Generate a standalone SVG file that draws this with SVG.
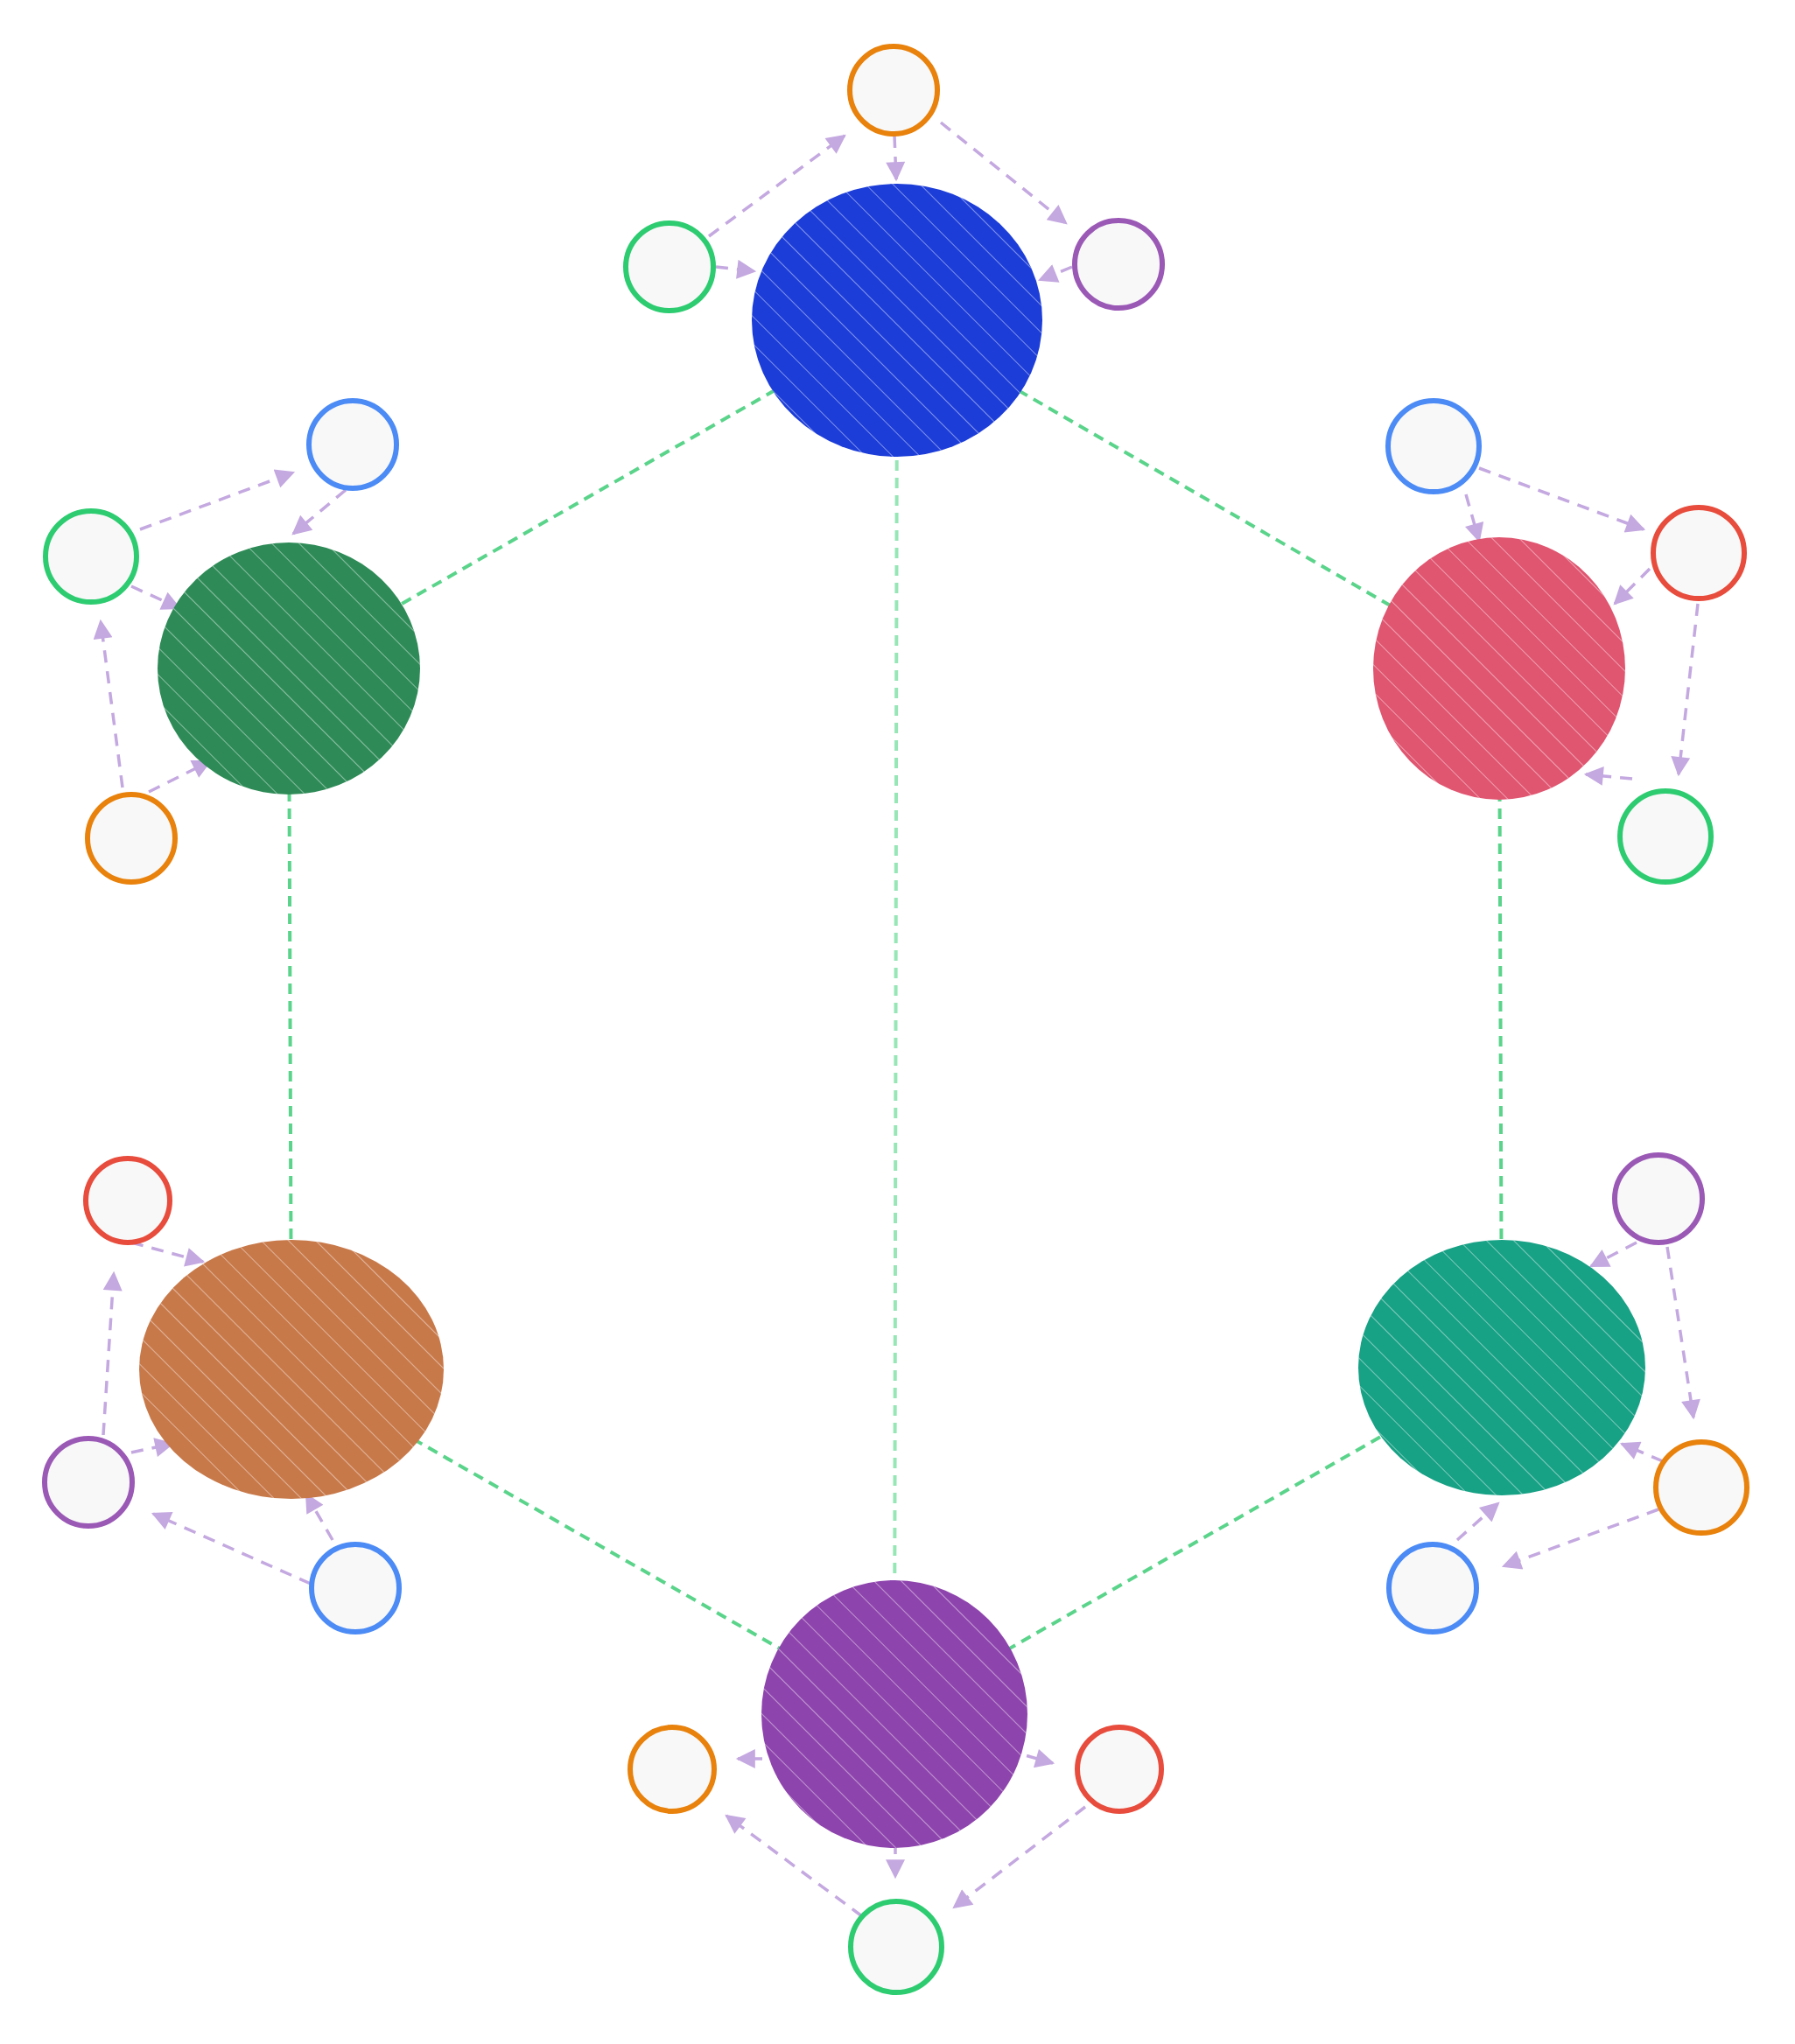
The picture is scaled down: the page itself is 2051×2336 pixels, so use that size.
<svg xmlns="http://www.w3.org/2000/svg" width="2051" height="2336" viewBox="0 0 2051 2336">
<style>
.e{fill:none;stroke:#5ad48a;stroke-width:4;stroke-dasharray:12 8}
.e2{fill:none;stroke:#96e6b6;stroke-width:4;stroke-dasharray:12 8}
.a{fill:none;stroke:#c4a8e0;stroke-width:3.5;stroke-dasharray:14 10;marker-end:url(#ah)}
.s{fill:#f8f8f8;stroke-width:6}
</style>
<defs>
<marker id="ah" viewBox="0 0 10 10" refX="9" refY="5" markerWidth="26" markerHeight="22" orient="auto" markerUnits="userSpaceOnUse"><path d="M0,0L10,5L0,10z" fill="#c4a8e0"/></marker>
<pattern id="hp" width="22" height="22" patternUnits="userSpaceOnUse" patternTransform="rotate(-45)"><line x1="0" y1="0" x2="0" y2="22" stroke="#fff" stroke-width="2" stroke-opacity=".45"/></pattern>
</defs>
<rect width="2051" height="2336" fill="#fff"/>
<g id="connectors">
<line class="e" x1="1025" y1="366" x2="330" y2="764"/>
<line class="e" x1="1025" y1="366" x2="1713" y2="764"/>
<line class="e2" x1="1025" y1="366" x2="1022" y2="1959"/>
<line class="e" x1="330" y1="764" x2="333" y2="1565"/>
<line class="e" x1="1713" y1="764" x2="1716" y2="1563"/>
<line class="e" x1="333" y1="1565" x2="1022" y2="1959"/>
<line class="e" x1="1716" y1="1563" x2="1022" y2="1959"/>
<line class="a" x1="810" y1="270" x2="965" y2="155"/>
<line class="a" x1="1075" y1="140" x2="1218" y2="255"/>
<line class="a" x1="1022" y1="155" x2="1024" y2="205"/>
<line class="a" x1="818" y1="305" x2="862" y2="310"/>
<line class="a" x1="1225" y1="305" x2="1188" y2="320"/>
<line class="a" x1="160" y1="605" x2="335" y2="540"/>
<line class="a" x1="140" y1="900" x2="115" y2="710"/>
<line class="a" x1="395" y1="560" x2="335" y2="610"/>
<line class="a" x1="150" y1="670" x2="205" y2="695"/>
<line class="a" x1="170" y1="905" x2="240" y2="870"/>
<line class="a" x1="1690" y1="535" x2="1878" y2="605"/>
<line class="a" x1="1940" y1="690" x2="1918" y2="885"/>
<line class="a" x1="1675" y1="565" x2="1690" y2="618"/>
<line class="a" x1="1885" y1="650" x2="1845" y2="690"/>
<line class="a" x1="1865" y1="890" x2="1812" y2="885"/>
<line class="a" x1="118" y1="1640" x2="130" y2="1455"/>
<line class="a" x1="355" y1="1810" x2="175" y2="1730"/>
<line class="a" x1="150" y1="1420" x2="232" y2="1442"/>
<line class="a" x1="150" y1="1660" x2="197" y2="1650"/>
<line class="a" x1="380" y1="1760" x2="350" y2="1708"/>
<line class="a" x1="1905" y1="1425" x2="1935" y2="1620"/>
<line class="a" x1="1895" y1="1725" x2="1718" y2="1790"/>
<line class="a" x1="1870" y1="1420" x2="1818" y2="1447"/>
<line class="a" x1="1900" y1="1670" x2="1853" y2="1650"/>
<line class="a" x1="1665" y1="1760" x2="1712" y2="1718"/>
<line class="a" x1="985" y1="2190" x2="830" y2="2075"/>
<line class="a" x1="1240" y1="2065" x2="1090" y2="2180"/>
<line class="a" x1="1023" y1="2105" x2="1023" y2="2145"/>
<line class="a" x1="895" y1="2010" x2="843" y2="2010"/>
<line class="a" x1="1150" y1="2000" x2="1203" y2="2015"/>
</g>
<g id="n-blue"><ellipse cx="1025" cy="366" rx="166" ry="156" fill="#1c3dd8"/><ellipse cx="1025" cy="366" rx="166" ry="156" fill="url(#hp)"/></g>
<g id="n-green"><ellipse cx="330" cy="764" rx="150" ry="144" fill="#2e8b57"/><ellipse cx="330" cy="764" rx="150" ry="144" fill="url(#hp)"/></g>
<g id="n-red"><ellipse cx="1713" cy="764" rx="144" ry="150" fill="#e05570"/><ellipse cx="1713" cy="764" rx="144" ry="150" fill="url(#hp)"/></g>
<g id="n-orange"><ellipse cx="333" cy="1565" rx="174" ry="148" fill="#c8794a"/><ellipse cx="333" cy="1565" rx="174" ry="148" fill="url(#hp)"/></g>
<g id="n-teal"><ellipse cx="1716" cy="1563" rx="164" ry="146" fill="#17a185"/><ellipse cx="1716" cy="1563" rx="164" ry="146" fill="url(#hp)"/></g>
<g id="n-purple"><ellipse cx="1022" cy="1959" rx="152" ry="153" fill="#8e44ad"/><ellipse cx="1022" cy="1959" rx="152" ry="153" fill="url(#hp)"/></g>
<g id="sat">
<circle class="s" cx="1021" cy="103" r="50" stroke="#e8820c"/>
<circle class="s" cx="765" cy="305" r="50" stroke="#2ecc71"/>
<circle class="s" cx="1278" cy="302" r="50" stroke="#9b59b6"/>
<circle class="s" cx="403" cy="508" r="50" stroke="#4c8bf5"/>
<circle class="s" cx="104" cy="636" r="52" stroke="#2ecc71"/>
<circle class="s" cx="150" cy="958" r="50" stroke="#e8820c"/>
<circle class="s" cx="1638" cy="510" r="52" stroke="#4c8bf5"/>
<circle class="s" cx="1941" cy="632" r="52" stroke="#e74c3c"/>
<circle class="s" cx="1903" cy="956" r="52" stroke="#2ecc71"/>
<circle class="s" cx="146" cy="1372" r="48" stroke="#e74c3c"/>
<circle class="s" cx="101" cy="1694" r="50" stroke="#9b59b6"/>
<circle class="s" cx="406" cy="1815" r="50" stroke="#4c8bf5"/>
<circle class="s" cx="1895" cy="1370" r="50" stroke="#9b59b6"/>
<circle class="s" cx="1944" cy="1700" r="52" stroke="#e8820c"/>
<circle class="s" cx="1637" cy="1815" r="50" stroke="#4c8bf5"/>
<circle class="s" cx="768" cy="2022" r="48" stroke="#e8820c"/>
<circle class="s" cx="1279" cy="2022" r="48" stroke="#e74c3c"/>
<circle class="s" cx="1024" cy="2225" r="52" stroke="#2ecc71"/>
</g>
</svg>
